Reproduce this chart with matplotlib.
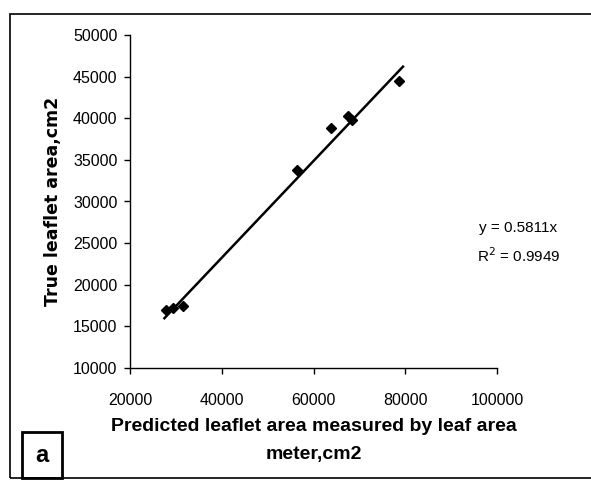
import matplotlib
matplotlib.use("Agg")
import matplotlib.pyplot as plt
from matplotlib.patches import Rectangle
import numpy as np

# Data
predicted = [27800, 29300, 31500, 56300, 63800, 67500, 68500, 78600]
true_area = [16970, 17200, 17450, 33780, 38830, 40270, 39790, 44470]
slope = 0.5811
r2 = 0.9949
trend_x = [27500, 79500]
x_ticks = [20000, 40000, 60000, 80000, 100000]
y_ticks = [10000, 15000, 20000, 25000, 30000, 35000, 40000, 45000, 50000]

plt.rcParams['font.family'] = ['Liberation Sans', 'DejaVu Sans']

fig = plt.figure(figsize=(5.91, 4.82), dpi=100)
ax = fig.add_axes([130/591, 114/482, 367/591, 333/482])

ax.plot(predicted, true_area, linestyle='none', marker='D', markersize=5.5,
        color='black')
tx = np.array(trend_x, dtype=float)
ax.plot(tx, slope * tx, color='black', linewidth=1.8)

ax.set_xlim(20000, 100000)
ax.set_ylim(10000, 50000)
ax.set_xticks(x_ticks)
ax.set_yticks(y_ticks)
ax.set_xticklabels([str(v) for v in x_ticks])
ax.set_yticklabels([str(v) for v in y_ticks])
for s in ['top', 'right']:
    ax.spines[s].set_visible(False)
for s in ['left', 'bottom']:
    ax.spines[s].set_linewidth(1.0)
ax.tick_params(axis='both', direction='out', length=4, width=1.0,
               labelsize=11.5, colors='black')
ax.tick_params(axis='x', pad=14)
ax.tick_params(axis='y', pad=5)

ax.set_xlabel("Predicted leaflet area measured by leaf area\nmeter,cm2",
              fontsize=14, fontweight='bold', labelpad=7, linespacing=1.9)
ax.set_ylabel("True leaflet area,cm2", fontsize=12.5, fontweight='bold',
              family=['DejaVu Sans'], labelpad=8)

ax.text(0.95, 0.42, "y = 0.5811x", transform=ax.transAxes, fontsize=11,
        ha='left', va='center', clip_on=False)
ax.text(0.945, 0.336, "R$^2$ = 0.9949", transform=ax.transAxes, fontsize=11,
        ha='left', va='center', clip_on=False)

# outer frame of chart area
fig.patches.append(Rectangle((10/591, 4/482), 600/591, 464/482,
                             transform=fig.transFigure, fill=False,
                             edgecolor='black', linewidth=1.2))
# panel label box
fig.patches.append(Rectangle((22/591, 4/482), 40/591, 46/482,
                             transform=fig.transFigure, fill=False,
                             edgecolor='black', linewidth=2.0))
fig.text(42/591, 27/482, "a", fontsize=17, fontweight='bold',
         ha='center', va='center')

fig.savefig("out.png", dpi=100)
